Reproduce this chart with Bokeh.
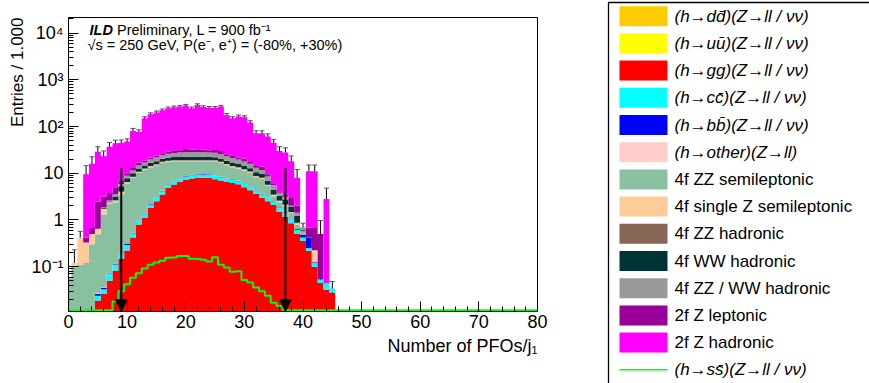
import numpy as np
from bokeh.plotting import figure
from bokeh.models import (Range1d, FixedTicker, Label, Whisker, TeeHead, Arrow,
                          NormalHead, ColumnDataSource, Title)
from bokeh.layouts import row
from bokeh.embed import file_html
from bokeh.resources import INLINE
from bokeh.core.properties import value

FONT = "Liberation Sans"

# ---------------- data (bin centres = number of PFOs in j1) ----------------
n_pfo = list(range(46))

h_dd = [0, 0, 0, 0, 0, 0, 0, 0, 0, 0.001,
        0.001, 0.001, 0.002, 0.002, 0.003, 0.003, 0.003, 0.004, 0.004, 0.004,
        0.004, 0.004, 0.004, 0.004, 0.004, 0.004, 0.004, 0.004, 0.003, 0.003,
        0.003, 0.003, 0.002, 0.002, 0.002, 0.001, 0.001, 0.001, 0, 0,
        0, 0, 0, 0, 0, 0]
h_uu = [0, 0, 0, 0, 0, 0, 0, 0, 0, 0,
        0.001, 0.001, 0.001, 0.001, 0.002, 0.002, 0.002, 0.002, 0.002, 0.003,
        0.003, 0.003, 0.003, 0.003, 0.003, 0.003, 0.003, 0.002, 0.002, 0.002,
        0.002, 0.002, 0.001, 0.001, 0.001, 0.001, 0.001, 0, 0, 0,
        0, 0, 0, 0, 0, 0]
h_gg = [0, 0, 0, 0, 0.008, 0.019, 0.026, 0.05, 0.082, 0.146,
        0.22, 0.42, 0.8, 1.1, 1.8, 2.5, 3.5, 4.8, 5.7, 6.6,
        7.2, 7.7, 7.9, 8.0, 7.9, 7.4, 7.0, 6.5, 6.2, 5.8,
        5.0, 4.3, 3.6, 3.0, 2.5, 2.1, 1.5, 1.15, 0.85, 0.5,
        0.36, 0.22, 0.1, 0.045, 0.032, 0.028]
h_cc = [0, 0, 0, 0, 0.004, 0.005, 0.007, 0.022, 0.03, 0.05,
        0.07, 0.1, 0.17, 0.22, 0.35, 0.45, 0.6, 0.8, 0.95, 1.1,
        1.2, 1.3, 1.35, 1.4, 1.35, 1.3, 1.2, 1.1, 1.0, 0.95,
        0.85, 0.75, 0.65, 0.55, 0.45, 0.4, 0.3, 0.25, 0.2, 0.12,
        0.06, 0.03, 0.02, 0.008, 0.012, 0.006]
h_bb = [0, 0, 0, 0, 0, 0.002, 0.002, 0.003, 0.003, 0.004,
        0.02, 0.01, 0.015, 0.02, 0.03, 0.05, 0.06, 0.1, 0.1, 0.15,
        0.2, 0.2, 0.22, 0.2, 0.2, 0.15, 0.15, 0.15, 0.1, 0.1,
        0.1, 0.08, 0.06, 0.05, 0.05, 0.04, 0.04, 0.05, 0.03, 0.02,
        0.06, 0.17, 0.005, 0, 0, 0]
h_other = [0, 0, 0, 0, 0, 0.001, 0.001, 0.002, 0.002, 0.003,
           0.005, 0.008, 0.01, 0.015, 0.02, 0.025, 0.03, 0.035, 0.04, 0.04,
           0.045, 0.045, 0.05, 0.05, 0.045, 0.045, 0.04, 0.04, 0.035, 0.03,
           0.03, 0.025, 0.02, 0.015, 0.012, 0.01, 0.008, 0.006, 0.004, 0.003,
           0.002, 0, 0, 0, 0, 0]
zz_sl = [0.06, 0.1, 0.11, 0.12, 0.29, 0.47, 1.26, 2.12, 2.28, 3.3,
         5.69, 7.36, 9.2, 10.64, 11.3, 11.77, 12.41, 11.77, 11.21, 10.11,
         9.36, 8.75, 8.48, 8.35, 8.5, 9.1, 8.21, 7.01, 6.17, 5.72,
         5.52, 5.05, 3.87, 3.89, 2.29, 0.65, 0.55, 0.54, 0.32, 0.16,
         0.07, 0, 0, 0, 0, 0]
sz_sl = [0, 0.02, 0.31, 0.21, 0.2, 0.15, 0.45, 0.2, 0.2, 0.5,
         0.4, 0.4, 0.5, 0.5, 0.6, 0.6, 0.7, 0.8, 0.8, 0.8,
         0.8, 0.8, 0.8, 0.8, 0.8, 0.8, 0.7, 0.7, 0.6, 0.6,
         0.5, 0.5, 0.4, 0.4, 0.3, 0.2, 0.15, 0.1, 0.05, 0.05,
         0.02, 0, 0.1, 0, 0, 0]
zz_h = [0, 0, 0, 0, 0, 0, 0, 0, 0.05, 0.05,
        0.1, 0.1, 0.1, 0.1, 0.1, 0.2, 0.2, 0.2, 0.2, 0.2,
        0.2, 0.2, 0.2, 0.2, 0.2, 0.2, 0.2, 0.2, 0.2, 0.2,
        0.2, 0.15, 0.15, 0.1, 0.1, 0.1, 0.05, 0.05, 0.03, 0.02,
        0, 0, 0, 0, 0, 0]
ww_h = [0, 0, 0, 0, 0, 0, 0.05, 0.1, 0.45, 1.2,
        1.3, 1.6, 1.8, 2.0, 2.5, 2.5, 2.8, 3.0, 3.2, 3.3,
        3.5, 3.5, 3.4, 3.4, 3.3, 3.0, 3.0, 2.8, 2.6, 2.4,
        2.2, 2.0, 1.8, 1.6, 1.2, 0.9, 0.7, 0.6, 0.42, 0.35,
        0.03, 0, 0, 0, 0, 0]
zzww_h = [0, 0, 0, 0, 0, 0, 0.05, 0.1, 0.5, 0.6,
          1.0, 1.5, 2.0, 2.4, 3.0, 3.5, 4.0, 4.5, 5.0, 5.3,
          5.6, 5.8, 6.0, 5.8, 5.6, 5.4, 5.0, 4.6, 4.2, 3.8,
          3.4, 3.0, 2.5, 2.1, 1.6, 1.2, 0.5, 0.4, 0.1, 0.2,
          0.1, 0, 0, 0, 0, 0]
z_lep = [0, 0, 0, 0.09, 0.2, 1.8, 1.35, 1.2, 1.4, 1.2,
         1.2, 1.5, 2.4, 1.5, 1.8, 2.0, 2.5, 3.0, 4.0, 3.5,
         5.0, 3.5, 4.0, 3.5, 3.0, 4.0, 4.5, 2.5, 2.4, 2.0,
         2.5, 1.5, 1.2, 2.0, 1.0, 0.5, 0.3, 0.3, 0.95, 0.6,
         0, 0.27, 0.47, 0.447, 0, 0]
z_had = [0, 0, 0, 9.08, 15.3, 26.5, 19.8, 33.2, 39.0, 38.0,
         38.0, 68.0, 59.0, 131.5, 161.5, 176.4, 195.2, 217.0, 226.8, 235.9,
         246.9, 214.2, 256.6, 230.3, 221.1, 220.6, 237.0, 151.4, 126.5, 141.4,
         137.7, 104.7, 57.8, 58.3, 51.5, 38.9, 25.9, 24.5, 15.0, 6.0,
         0, 10.3, 10.3, 0, 2.76, 0]
h_ss = [0, 0, 0, 0, 0, 0, 0, 0, 0.018, 0.03,
        0.042, 0.058, 0.072, 0.092, 0.11, 0.123, 0.134, 0.155, 0.158, 0.17,
        0.17, 0.148, 0.146, 0.14, 0.13, 0.16, 0.11, 0.096, 0.078, 0.08,
        0.052, 0.046, 0.036, 0.03, 0.024, 0.017, 0.0145, 0, 0, 0,
        0, 0, 0, 0, 0, 0]
stat_err = [0, 0.11, 0.15, 5.0, 6.5, 8.0, 7.0, 8.5, 7.0, 6.5,
            6.5, 10.0, 9.0, 12.0, 13.0, 14.0, 15.0, 15.0, 16.0, 16.0,
            17.0, 15.0, 17.0, 16.0, 16.0, 16.0, 16.0, 13.0, 12.0, 13.0,
            12.0, 11.0, 9.0, 9.0, 8.5, 8.0, 7.0, 7.0, 5.5, 4.0,
            0.15, 4.0, 4.0, 0.47, 2.0, 0.014]

cuts = [9, 37]
cut_arrow_top = 13.0

x_ticks = [0, 10, 20, 30, 40, 50, 60, 70, 80]
x_minor = [v for v in range(0, 81, 2) if v % 10]
y_ticks = [0.1, 1.0, 10.0, 100.0, 1000.0, 10000.0]
y_tick_labels = ["10\u207b\u00b9", "1", "10", "10\u00b2", "10\u00b3", "10\u2074"]
y_minor = [m * 10.0 ** e for e in range(-2, 5) for m in range(2, 10)]

legend_labels = [
    "(h\u2192dd\u0304)(Z\u2192ll / \u03bd\u03bd)",
    "(h\u2192uu\u0304)(Z\u2192ll / \u03bd\u03bd)",
    "(h\u2192gg)(Z\u2192ll / \u03bd\u03bd)",
    "(h\u2192cc\u0304)(Z\u2192ll / \u03bd\u03bd)",
    "(h\u2192bb\u0304)(Z\u2192ll / \u03bd\u03bd)",
    "(h\u2192other)(Z\u2192ll)",
    "4f ZZ semileptonic",
    "4f single Z semileptonic",
    "4f ZZ hadronic",
    "4f WW hadronic",
    "4f ZZ / WW hadronic",
    "2f Z leptonic",
    "2f Z hadronic",
    "(h\u2192ss\u0304)(Z\u2192ll / \u03bd\u03bd)",
]
legend_italic = [True, True, True, True, True, True, False, False, False,
                 False, False, False, False, True]

stack = [
    (h_dd, "#ffcc00"), (h_uu, "#ffff00"), (h_gg, "#ff0000"), (h_cc, "#00ffff"),
    (h_bb, "#0000ff"), (h_other, "#ffcccc"), (zz_sl, "#88c0a0"),
    (sz_sl, "#ffcc99"), (zz_h, "#886655"), (ww_h, "#003333"),
    (zzww_h, "#999999"), (z_lep, "#990099"), (z_had, "#ff00ff"),
]
hss_color = "#00ff00"

# ---------------- main figure ----------------
YMIN, YMAX = 0.011, 21500.0
FL, FB = 68, 311   # frame left / bottom on the canvas (px)

p = figure(width=580, height=383, x_range=Range1d(0, 80),
           y_range=Range1d(YMIN, YMAX), y_axis_type="log",
           output_backend="svg", toolbar_location=None,
           min_border_left=FL, min_border_right=43, min_border_top=17,
           min_border_bottom=383 - FB)
p.frame_align = False
p.xgrid.visible = False
p.ygrid.visible = False
p.outline_line_color = "black"
p.outline_line_width = 1
p.background_fill_color = "white"

FLOOR = 1e-4
x_arr = np.array(n_pfo, dtype=float)
edges = list(x_arr - 0.5) + [x_arr[-1] + 0.5]
cum = np.zeros(len(n_pfo))
for vals, col in stack:
    lo = cum.copy()
    hi = cum + np.array(vals, dtype=float)
    y1 = np.where(lo > 0, lo, FLOOR)
    y2 = np.where(hi > 0, hi, FLOOR)
    y1 = list(y1) + [y1[-1]]
    y2 = list(y2) + [y2[-1]]
    p.varea_step(x=edges, y1=y1, y2=y2, step_mode="after",
                 fill_color=col, fill_alpha=1.0)
    cum = hi
total = cum

# h -> ss line (not stacked); empty bins lie on the axis
hss_full = list(h_ss) + [0] * (81 - len(h_ss))
hss_y = np.maximum(np.array(hss_full, dtype=float), YMIN * 1.06)
p.step(list(range(81)), hss_y, mode="center", line_color=hss_color,
       line_width=2)

# statistical error bars on the total
err = np.array(stat_err, dtype=float)
m = err > 0
src = ColumnDataSource(dict(x=x_arr[m], up=(total + err)[m],
                            lo=np.maximum(total - err, YMIN)[m]))
p.add_layout(Whisker(source=src, base="x", upper="up", lower="lo",
                     line_color="black", line_width=1,
                     upper_head=TeeHead(size=5, line_color="#555555", line_width=1),
                     lower_head=TeeHead(size=5, line_color="#555555", line_width=1)))

# cut arrows
for c in cuts:
    p.add_layout(Arrow(end=NormalHead(size=12, fill_color="black",
                                      line_color="black"),
                       x_start=c, y_start=cut_arrow_top, x_end=c, y_end=YMIN,
                       line_color="black", line_width=2))

# axes
p.xaxis.ticker = FixedTicker(ticks=x_ticks, minor_ticks=x_minor)
p.yaxis.ticker = FixedTicker(ticks=y_ticks,
                             minor_ticks=[v for v in y_minor if YMIN <= v <= YMAX])
p.yaxis.major_label_overrides = {t: l for t, l in zip(y_ticks, y_tick_labels)}
for ax in (p.xaxis[0], p.yaxis[0]):
    ax.major_tick_in = 10
    ax.major_tick_out = 0
    ax.minor_tick_in = 5
    ax.minor_tick_out = 0
    ax.axis_line_color = "black"
    ax.major_tick_line_color = "black"
    ax.minor_tick_line_color = "black"
    ax.major_label_text_font = FONT
    ax.major_label_text_font_size = "18px"
    ax.major_label_text_color = "black"
p.xaxis.major_label_standoff = 3
p.yaxis.major_label_standoff = 5

# axis titles (ROOT style: flush with the far end of the axis)
p.add_layout(Title(text="Number of PFOs/j\u2081", align="right",
                   text_font=FONT, text_font_size="18px",
                   text_font_style="normal", text_color="black",
                   standoff=6), "below")
p.add_layout(Title(text="Entries / 1.000", align="right",
                   text_font=FONT, text_font_size="17px",
                   text_font_style="normal", text_color="black",
                   standoff=4), "left")


def scr(cx, cy):
    """canvas px -> frame-relative screen units"""
    return cx - FL, FB - cy


lx, ly = scr(89, 29.5)
p.add_layout(Label(x=lx, y=ly, x_units="screen", y_units="screen",
                   text="ILD", text_font_style="bold italic",
                   text_baseline="alphabetic", text_font=FONT,
                   text_font_size="14.5px", text_color="black"))
lx, ly = scr(116.5, 29.5)
p.add_layout(Label(x=lx, y=ly, x_units="screen", y_units="screen",
                   text="Preliminary, L = 900 fb\u207b\u00b9",
                   text_baseline="alphabetic", text_font=FONT,
                   text_font_size="14.5px", text_color="black"))
lx, ly = scr(87, 44.5)
p.add_layout(Label(x=lx, y=ly, x_units="screen", y_units="screen",
                   text="\u221as = 250 GeV, P(e\u207b, e\u207a) = (-80%, +30%)",
                   text_baseline="alphabetic", text_font=FONT,
                   text_font_size="14.5px", text_color="black"))

# ---------------- legend panel (coordinates = canvas pixels) ----------------
lg = figure(width=289, height=383, x_range=Range1d(580, 869),
            y_range=Range1d(383, 0), output_backend="svg",
            toolbar_location=None, min_border=0,
            x_axis_location=None, y_axis_location=None)
lg.frame_align = False
lg.xgrid.visible = False
lg.ygrid.visible = False
lg.outline_line_color = None

lg.quad(left=[608], right=[900], top=[2], bottom=[420], fill_color=None,
        line_color="black", line_width=1.3)
row_y = [15.7 + 27.2 * i for i in range(len(legend_labels))]
box_cols = [c for _, c in stack]
lg.quad(left=[619] * 13, right=[667] * 13,
        top=[y - 10 for y in row_y[:13]], bottom=[y + 10 for y in row_y[:13]],
        fill_color=box_cols, line_color=None)
lg.segment(x0=[619], x1=[667], y0=[row_y[13]], y1=[row_y[13]],
           line_color=hss_color, line_width=1.5)
it_y = [y for y, f in zip(row_y, legend_italic) if f]
it_t = [t for t, f in zip(legend_labels, legend_italic) if f]
no_y = [y for y, f in zip(row_y, legend_italic) if not f]
no_t = [t for t, f in zip(legend_labels, legend_italic) if not f]
lg.text(x=[674] * len(it_t), y=it_y, text=it_t, text_baseline="middle",
        text_font=value(FONT), text_font_size="17px",
        text_font_style="italic", text_color="black")
lg.text(x=[674] * len(no_t), y=no_y, text=no_t, text_baseline="middle",
        text_font=value(FONT), text_font_size="17px",
        text_font_style="normal", text_color="black")

layout = row(p, lg)
open("out.html", "w").write(file_html(layout, INLINE))
